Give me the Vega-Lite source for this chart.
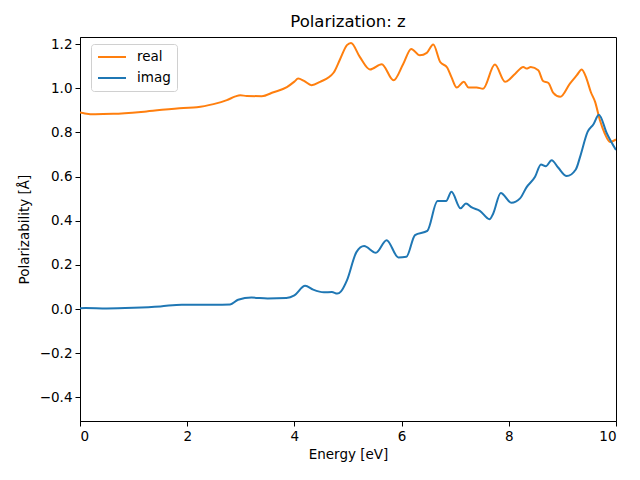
{
  "$schema": "https://vega.github.io/schema/vega-lite/v6.json",
  "width": 536,
  "height": 384,
  "autosize": {"type": "none"},
  "padding": {"left": 80, "top": 37, "right": 24, "bottom": 59},
  "background": "white",
  "config": {
    "font": "DejaVu Sans",
    "view": {"stroke": "black", "strokeWidth": 1},
    "axis": {
      "grid": false,
      "domainColor": "black",
      "tickColor": "black",
      "tickSize": 5,
      "labelFontSize": 13.5,
      "labelColor": "black",
      "titleFontSize": 13.5,
      "titleFontWeight": "normal",
      "titleColor": "black",
      "labelFont": "DejaVu Sans",
      "titleFont": "DejaVu Sans"
    }
  },
  "title": {
    "text": "Polarization: z",
    "fontSize": 16.5,
    "fontWeight": "normal",
    "font": "DejaVu Sans",
    "color": "black",
    "offset": 7
  },
  "data": {
    "values": [
      {"E": 0, "v": 0.89, "s": "real"},
      {"E": 0.09, "v": 0.886, "s": "real"},
      {"E": 0.28, "v": 0.882, "s": "real"},
      {"E": 0.62, "v": 0.884, "s": "real"},
      {"E": 1.24, "v": 0.895, "s": "real"},
      {"E": 1.93, "v": 0.911, "s": "real"},
      {"E": 2.18, "v": 0.914, "s": "real"},
      {"E": 2.49, "v": 0.928, "s": "real"},
      {"E": 2.74, "v": 0.946, "s": "real"},
      {"E": 2.9, "v": 0.963, "s": "real"},
      {"E": 2.99, "v": 0.968, "s": "real"},
      {"E": 3.11, "v": 0.965, "s": "real"},
      {"E": 3.39, "v": 0.964, "s": "real"},
      {"E": 3.61, "v": 0.982, "s": "real"},
      {"E": 3.86, "v": 1.005, "s": "real"},
      {"E": 4.0, "v": 1.03, "s": "real"},
      {"E": 4.07, "v": 1.044, "s": "real"},
      {"E": 4.18, "v": 1.033, "s": "real"},
      {"E": 4.32, "v": 1.014, "s": "real"},
      {"E": 4.48, "v": 1.029, "s": "real"},
      {"E": 4.73, "v": 1.07, "s": "real"},
      {"E": 4.85, "v": 1.13, "s": "real"},
      {"E": 4.98, "v": 1.195, "s": "real"},
      {"E": 5.056, "v": 1.205, "s": "real"},
      {"E": 5.22, "v": 1.142, "s": "real"},
      {"E": 5.41, "v": 1.085, "s": "real"},
      {"E": 5.63, "v": 1.109, "s": "real"},
      {"E": 5.85, "v": 1.036, "s": "real"},
      {"E": 6.03, "v": 1.11, "s": "real"},
      {"E": 6.18, "v": 1.178, "s": "real"},
      {"E": 6.34, "v": 1.149, "s": "real"},
      {"E": 6.47, "v": 1.16, "s": "real"},
      {"E": 6.59, "v": 1.198, "s": "real"},
      {"E": 6.72, "v": 1.119, "s": "real"},
      {"E": 6.85, "v": 1.094, "s": "real"},
      {"E": 6.93, "v": 1.05, "s": "real"},
      {"E": 7.03, "v": 1.003, "s": "real"},
      {"E": 7.16, "v": 1.029, "s": "real"},
      {"E": 7.25, "v": 1.003, "s": "real"},
      {"E": 7.4, "v": 1.003, "s": "real"},
      {"E": 7.52, "v": 0.998, "s": "real"},
      {"E": 7.74, "v": 1.107, "s": "real"},
      {"E": 7.93, "v": 1.029, "s": "real"},
      {"E": 8.12, "v": 1.066, "s": "real"},
      {"E": 8.27, "v": 1.096, "s": "real"},
      {"E": 8.33, "v": 1.089, "s": "real"},
      {"E": 8.41, "v": 1.096, "s": "real"},
      {"E": 8.55, "v": 1.081, "s": "real"},
      {"E": 8.64, "v": 1.033, "s": "real"},
      {"E": 8.74, "v": 1.024, "s": "real"},
      {"E": 8.83, "v": 0.979, "s": "real"},
      {"E": 8.96, "v": 0.961, "s": "real"},
      {"E": 9.14, "v": 1.021, "s": "real"},
      {"E": 9.27, "v": 1.059, "s": "real"},
      {"E": 9.36, "v": 1.085, "s": "real"},
      {"E": 9.45, "v": 1.044, "s": "real"},
      {"E": 9.53, "v": 0.983, "s": "real"},
      {"E": 9.61, "v": 0.938, "s": "real"},
      {"E": 9.7, "v": 0.855, "s": "real"},
      {"E": 9.79, "v": 0.795, "s": "real"},
      {"E": 9.89, "v": 0.757, "s": "real"},
      {"E": 10, "v": 0.768, "s": "real"},
      {"E": 0, "v": 0.004, "s": "imag"},
      {"E": 0.1, "v": 0.005, "s": "imag"},
      {"E": 0.5, "v": 0.003, "s": "imag"},
      {"E": 1.0, "v": 0.006, "s": "imag"},
      {"E": 1.5, "v": 0.012, "s": "imag"},
      {"E": 1.9, "v": 0.02, "s": "imag"},
      {"E": 2.5, "v": 0.019, "s": "imag"},
      {"E": 2.8, "v": 0.021, "s": "imag"},
      {"E": 2.95, "v": 0.042, "s": "imag"},
      {"E": 3.2, "v": 0.052, "s": "imag"},
      {"E": 3.5, "v": 0.048, "s": "imag"},
      {"E": 3.85, "v": 0.05, "s": "imag"},
      {"E": 4.0, "v": 0.062, "s": "imag"},
      {"E": 4.2, "v": 0.105, "s": "imag"},
      {"E": 4.35, "v": 0.088, "s": "imag"},
      {"E": 4.55, "v": 0.076, "s": "imag"},
      {"E": 4.7, "v": 0.077, "s": "imag"},
      {"E": 4.8, "v": 0.07, "s": "imag"},
      {"E": 4.87, "v": 0.08, "s": "imag"},
      {"E": 4.98, "v": 0.13, "s": "imag"},
      {"E": 5.16, "v": 0.259, "s": "imag"},
      {"E": 5.3, "v": 0.285, "s": "imag"},
      {"E": 5.52, "v": 0.255, "s": "imag"},
      {"E": 5.72, "v": 0.312, "s": "imag"},
      {"E": 5.94, "v": 0.234, "s": "imag"},
      {"E": 6.09, "v": 0.237, "s": "imag"},
      {"E": 6.25, "v": 0.335, "s": "imag"},
      {"E": 6.48, "v": 0.354, "s": "imag"},
      {"E": 6.67, "v": 0.489, "s": "imag"},
      {"E": 6.83, "v": 0.489, "s": "imag"},
      {"E": 6.93, "v": 0.531, "s": "imag"},
      {"E": 7.1, "v": 0.456, "s": "imag"},
      {"E": 7.2, "v": 0.478, "s": "imag"},
      {"E": 7.31, "v": 0.46, "s": "imag"},
      {"E": 7.46, "v": 0.445, "s": "imag"},
      {"E": 7.64, "v": 0.407, "s": "imag"},
      {"E": 7.71, "v": 0.433, "s": "imag"},
      {"E": 7.85, "v": 0.526, "s": "imag"},
      {"E": 8.05, "v": 0.481, "s": "imag"},
      {"E": 8.21, "v": 0.501, "s": "imag"},
      {"E": 8.33, "v": 0.551, "s": "imag"},
      {"E": 8.49, "v": 0.599, "s": "imag"},
      {"E": 8.6, "v": 0.655, "s": "imag"},
      {"E": 8.69, "v": 0.647, "s": "imag"},
      {"E": 8.8, "v": 0.674, "s": "imag"},
      {"E": 8.92, "v": 0.641, "s": "imag"},
      {"E": 9.08, "v": 0.602, "s": "imag"},
      {"E": 9.25, "v": 0.632, "s": "imag"},
      {"E": 9.33, "v": 0.689, "s": "imag"},
      {"E": 9.47, "v": 0.802, "s": "imag"},
      {"E": 9.58, "v": 0.837, "s": "imag"},
      {"E": 9.68, "v": 0.88, "s": "imag"},
      {"E": 9.83, "v": 0.795, "s": "imag"},
      {"E": 10, "v": 0.72, "s": "imag"}
    ]
  },
  "mark": {"type": "line", "strokeWidth": 2, "interpolate": "monotone", "clip": true},
  "encoding": {
    "x": {
      "field": "E",
      "type": "quantitative",
      "title": "Energy [eV]",
      "scale": {"domain": [0, 10], "nice": false, "zero": false},
      "axis": {"values": [0, 2, 4, 6, 8, 10], "format": "d", "labelPadding": 3, "titlePadding": 5}
    },
    "y": {
      "field": "v",
      "type": "quantitative",
      "title": "Polarizability [Å]",
      "scale": {"domain": [-0.507, 1.232], "nice": false, "zero": false},
      "axis": {"values": [-0.4, -0.2, 0, 0.2, 0.4, 0.6, 0.8, 1.0, 1.2], "format": ".1f", "labelPadding": 3, "titlePadding": 8}
    },
    "color": {
      "field": "s",
      "type": "nominal",
      "sort": ["real", "imag"],
      "scale": {"domain": ["real", "imag"], "range": ["#ff7f0e", "#1f77b4"]},
      "legend": {
        "title": null,
        "orient": "none",
        "legendX": 11,
        "legendY": 7,
        "symbolType": "stroke",
        "symbolSize": 784,
        "symbolStrokeWidth": 2,
        "clipHeight": 14,
        "labelFontSize": 13.5,
        "labelColor": "black",
        "labelFont": "DejaVu Sans",
        "rowPadding": 7,
        "symbolOffset": 0,
        "labelOffset": 10,
        "fillColor": "white",
        "strokeColor": "#d0d0d0",
        "cornerRadius": 3,
        "padding": 6
      }
    }
  }
}
